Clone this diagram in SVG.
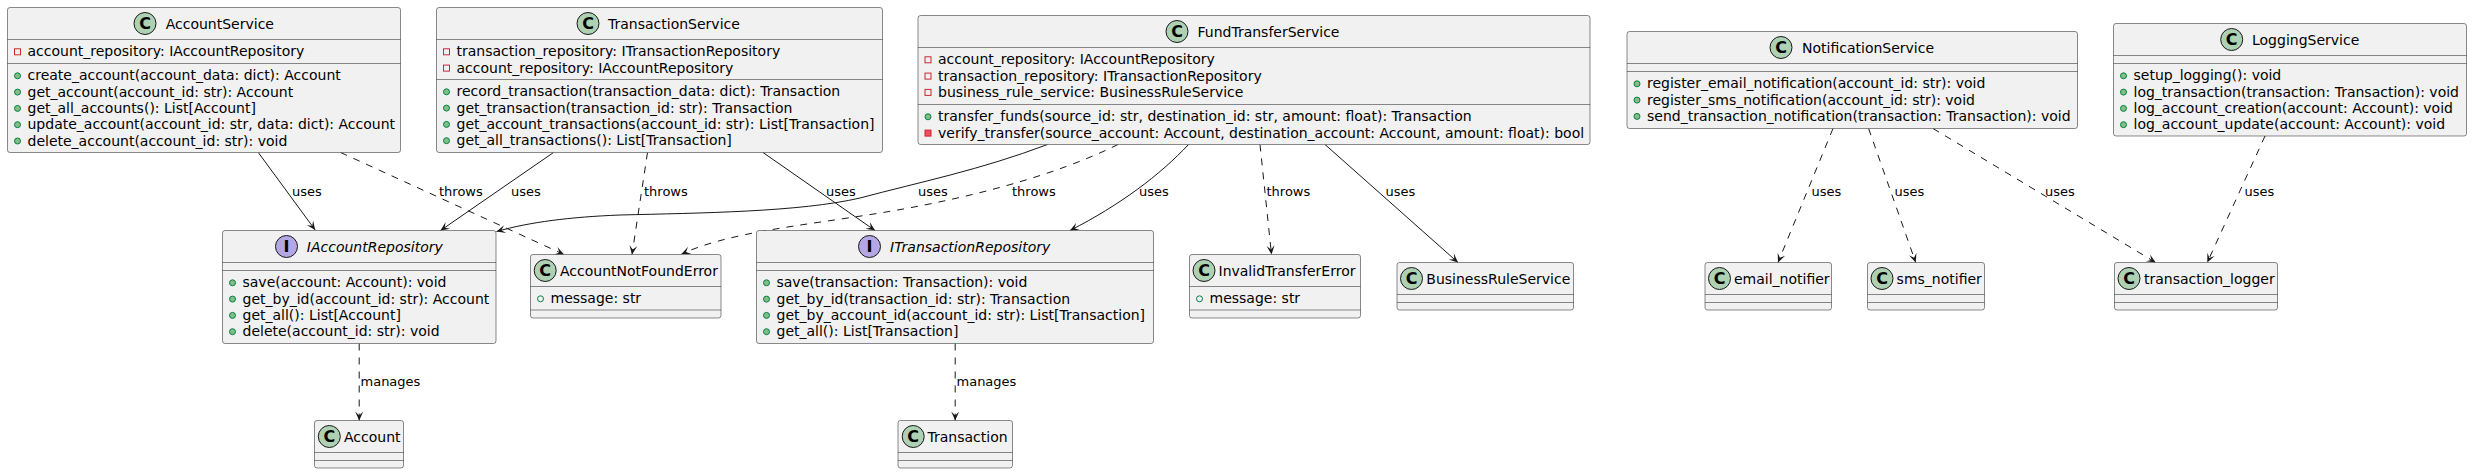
<svg xmlns="http://www.w3.org/2000/svg" width="2472" height="474" viewBox="0 0 2472 474">
<style>
.box{fill:#F1F1F1;stroke:#181818;stroke-width:0.5}
.sep{stroke:#181818;stroke-width:0.5}
.t{font-family:"DejaVu Sans","Liberation Sans",sans-serif;font-size:14px;fill:#000}
.it{font-style:italic}
.lbl{font-family:"DejaVu Sans","Liberation Sans",sans-serif;font-size:13px;fill:#000}
.cc{fill:#ADD1B2;stroke:#181818;stroke-width:1}
.ci{fill:#B4A7E5;stroke:#181818;stroke-width:1}
.g{font-family:"DejaVu Sans","Liberation Sans",sans-serif;font-size:16px;font-weight:bold;text-anchor:middle;fill:#000}
.pm{fill:#84BE84;stroke:#038048;stroke-width:1}
.pf{fill:none;stroke:#038048;stroke-width:1}
.prf{fill:none;stroke:#C82930;stroke-width:1}
.prm{fill:#F24D5C;stroke:#C82930;stroke-width:1}
.e{fill:none;stroke:#181818;stroke-width:1;marker-end:url(#arr)}
.d{stroke-dasharray:7,7}
</style>
<defs>
<marker id="arr" viewBox="-10 -5 11 10" refX="0" refY="0" markerWidth="11" markerHeight="10" markerUnits="userSpaceOnUse" orient="auto">
<path d="M0,0 L-9,-4 L-5,0 L-9,4 Z" fill="#181818" stroke="none"/>
</marker>
</defs>
<rect width="2472" height="474" fill="#FFFFFF"/>

<g id="connectors">
<path class="e" d="M258.3,152.5 L315.2,230"/>
<path class="e d" d="M340.6,152.5 L564,254.5"/>
<path class="e" d="M553.5,152.5 L440.5,230.5"/>
<path class="e d" d="M647.5,152.5 L632,254.5"/>
<path class="e" d="M763,152.5 L875,230.5"/>
<path class="e" d="M1047.5,144.5 C980,170 920,182 860,198 C800,212 700,213 620,215 C570,217 530,222 496.5,231.5"/>
<path class="e d" d="M1118,144.5 C1050,178 960,200 880,213 C800,226 730,232 681.5,254"/>
<path class="e" d="M1188.5,144.5 C1160,175 1120,205 1070,230.5"/>
<path class="e d" d="M1260,144.5 L1271.5,254.5"/>
<path class="e" d="M1325,144.5 L1458,262.5"/>
<path class="e d" d="M1833,128.5 L1778,262.5"/>
<path class="e d" d="M1868.6,128.5 L1915.7,262.5"/>
<path class="e d" d="M1933,128.5 L2155.7,262.5"/>
<path class="e d" d="M2265,136 L2207.3,262.5"/>
<path class="e d" d="M359.2,343.5 L359.2,420.5"/>
<path class="e d" d="M955.2,343.5 L955.2,420.5"/>
<text class="lbl" x="292" y="196">uses</text>
<text class="lbl" x="439" y="196">throws</text>
<text class="lbl" x="511" y="196">uses</text>
<text class="lbl" x="644" y="196">throws</text>
<text class="lbl" x="826" y="196">uses</text>
<text class="lbl" x="918" y="196">uses</text>
<text class="lbl" x="1012" y="196">throws</text>
<text class="lbl" x="1139" y="196">uses</text>
<text class="lbl" x="1266.5" y="196">throws</text>
<text class="lbl" x="1385.5" y="196">uses</text>
<text class="lbl" x="1811.5" y="196">uses</text>
<text class="lbl" x="1894.5" y="196">uses</text>
<text class="lbl" x="2045" y="196">uses</text>
<text class="lbl" x="2244.5" y="196">uses</text>
<text class="lbl" x="360.5" y="386">manages</text>
<text class="lbl" x="956.5" y="386">manages</text>
</g>

<g id="AccountService">
<rect class="box" x="7.5" y="7.5" width="393" height="145" rx="2.5"/>
<circle class="cc" cx="145" cy="23.5" r="11"/><text class="g" x="145" y="29.3">C</text>
<text class="t" x="165.7" y="28.5">AccountService</text>
<line class="sep" x1="7.5" y1="39.5" x2="400.5" y2="39.5"/>
<rect class="prf" x="14.5" y="48.8" width="6" height="6"/>
<text class="t" x="27.5" y="56.3">account_repository: IAccountRepository</text>
<line class="sep" x1="7.5" y1="63.5" x2="400.5" y2="63.5"/>
<circle class="pm" cx="17.5" cy="75.8" r="3"/><text class="t" x="27.5" y="80.3">create_account(account_data: dict): Account</text>
<circle class="pm" cx="17.5" cy="92.1" r="3"/><text class="t" x="27.5" y="96.6">get_account(account_id: str): Account</text>
<circle class="pm" cx="17.5" cy="108.4" r="3"/><text class="t" x="27.5" y="112.9">get_all_accounts(): List[Account]</text>
<circle class="pm" cx="17.5" cy="124.7" r="3"/><text class="t" x="27.5" y="129.2">update_account(account_id: str, data: dict): Account</text>
<circle class="pm" cx="17.5" cy="141" r="3"/><text class="t" x="27.5" y="145.5">delete_account(account_id: str): void</text>
</g>

<g id="TransactionService">
<rect class="box" x="436.5" y="7.5" width="446" height="145" rx="2.5"/>
<circle class="cc" cx="588" cy="23.5" r="11"/><text class="g" x="588" y="29.3">C</text>
<text class="t" x="608" y="28.5">TransactionService</text>
<line class="sep" x1="436.5" y1="39.5" x2="882.5" y2="39.5"/>
<rect class="prf" x="443.5" y="48.8" width="6" height="6"/><text class="t" x="456.5" y="56.3">transaction_repository: ITransactionRepository</text>
<rect class="prf" x="443.5" y="65.1" width="6" height="6"/><text class="t" x="456.5" y="72.6">account_repository: IAccountRepository</text>
<line class="sep" x1="436.5" y1="79.5" x2="882.5" y2="79.5"/>
<circle class="pm" cx="446.5" cy="91.8" r="3"/><text class="t" x="456.5" y="96.3">record_transaction(transaction_data: dict): Transaction</text>
<circle class="pm" cx="446.5" cy="108.1" r="3"/><text class="t" x="456.5" y="112.6">get_transaction(transaction_id: str): Transaction</text>
<circle class="pm" cx="446.5" cy="124.4" r="3"/><text class="t" x="456.5" y="128.9">get_account_transactions(account_id: str): List[Transaction]</text>
<circle class="pm" cx="446.5" cy="140.7" r="3"/><text class="t" x="456.5" y="145.2">get_all_transactions(): List[Transaction]</text>
</g>

<g id="FundTransferService">
<rect class="box" x="918" y="15.5" width="672" height="129" rx="2.5"/>
<circle class="cc" cx="1177" cy="31.5" r="11"/><text class="g" x="1177" y="37.3">C</text>
<text class="t" x="1197.5" y="36.5">FundTransferService</text>
<line class="sep" x1="918" y1="47.5" x2="1590" y2="47.5"/>
<rect class="prf" x="925" y="56.8" width="6" height="6"/><text class="t" x="938" y="64.3">account_repository: IAccountRepository</text>
<rect class="prf" x="925" y="73.1" width="6" height="6"/><text class="t" x="938" y="80.6">transaction_repository: ITransactionRepository</text>
<rect class="prf" x="925" y="89.4" width="6" height="6"/><text class="t" x="938" y="96.9">business_rule_service: BusinessRuleService</text>
<line class="sep" x1="918" y1="104.5" x2="1590" y2="104.5"/>
<circle class="pm" cx="928" cy="116.8" r="3"/><text class="t" x="938" y="121.3">transfer_funds(source_id: str, destination_id: str, amount: float): Transaction</text>
<rect class="prm" x="925" y="130.1" width="6" height="6"/><text class="t" x="938" y="137.6">verify_transfer(source_account: Account, destination_account: Account, amount: float): bool</text>
</g>

<g id="NotificationService">
<rect class="box" x="1627" y="31.5" width="450.5" height="97" rx="2.5"/>
<circle class="cc" cx="1781" cy="47.5" r="11"/><text class="g" x="1781" y="53.3">C</text>
<text class="t" x="1802" y="52.5">NotificationService</text>
<line class="sep" x1="1627" y1="63.5" x2="2077.5" y2="63.5"/>
<line class="sep" x1="1627" y1="71.5" x2="2077.5" y2="71.5"/>
<circle class="pm" cx="1637" cy="83.8" r="3"/><text class="t" x="1647" y="88.3">register_email_notification(account_id: str): void</text>
<circle class="pm" cx="1637" cy="100.1" r="3"/><text class="t" x="1647" y="104.6">register_sms_notification(account_id: str): void</text>
<circle class="pm" cx="1637" cy="116.4" r="3"/><text class="t" x="1647" y="120.9">send_transaction_notification(transaction: Transaction): void</text>
</g>

<g id="LoggingService">
<rect class="box" x="2113.5" y="23.5" width="353" height="112.5" rx="2.5"/>
<circle class="cc" cx="2231.7" cy="39.5" r="11"/><text class="g" x="2231.7" y="45.3">C</text>
<text class="t" x="2252" y="44.5">LoggingService</text>
<line class="sep" x1="2113.5" y1="55.5" x2="2466.5" y2="55.5"/>
<line class="sep" x1="2113.5" y1="63.5" x2="2466.5" y2="63.5"/>
<circle class="pm" cx="2123.5" cy="75.8" r="3"/><text class="t" x="2133.5" y="80.3">setup_logging(): void</text>
<circle class="pm" cx="2123.5" cy="92.1" r="3"/><text class="t" x="2133.5" y="96.6">log_transaction(transaction: Transaction): void</text>
<circle class="pm" cx="2123.5" cy="108.4" r="3"/><text class="t" x="2133.5" y="112.9">log_account_creation(account: Account): void</text>
<circle class="pm" cx="2123.5" cy="124.7" r="3"/><text class="t" x="2133.5" y="129.2">log_account_update(account: Account): void</text>
</g>

<g id="IAccountRepository">
<rect class="box" x="222.5" y="230.5" width="273.5" height="113" rx="2.5"/>
<circle class="ci" cx="286.5" cy="246.5" r="11"/><text class="g" x="286.5" y="252.3">I</text>
<text class="t it" x="306.8" y="251.5">IAccountRepository</text>
<line class="sep" x1="222.5" y1="262.5" x2="496" y2="262.5"/>
<line class="sep" x1="222.5" y1="270.5" x2="496" y2="270.5"/>
<circle class="pm" cx="232.5" cy="282.8" r="3"/><text class="t" x="242.5" y="287.3">save(account: Account): void</text>
<circle class="pm" cx="232.5" cy="299.1" r="3"/><text class="t" x="242.5" y="303.6">get_by_id(account_id: str): Account</text>
<circle class="pm" cx="232.5" cy="315.4" r="3"/><text class="t" x="242.5" y="319.9">get_all(): List[Account]</text>
<circle class="pm" cx="232.5" cy="331.7" r="3"/><text class="t" x="242.5" y="336.2">delete(account_id: str): void</text>
</g>

<g id="AccountNotFoundError">
<rect class="box" x="530.5" y="254.5" width="190.5" height="63.5" rx="2.5"/>
<circle class="cc" cx="545.2" cy="270.5" r="11"/><text class="g" x="545.2" y="276.3">C</text>
<text class="t" x="560" y="275.5">AccountNotFoundError</text>
<line class="sep" x1="530.5" y1="286.5" x2="721" y2="286.5"/>
<circle class="pf" cx="540.5" cy="298.8" r="3"/><text class="t" x="550.5" y="303.3">message: str</text>
<line class="sep" x1="530.5" y1="310" x2="721" y2="310"/>
</g>

<g id="ITransactionRepository">
<rect class="box" x="756.5" y="230.5" width="397" height="113" rx="2.5"/>
<circle class="ci" cx="869.5" cy="246.5" r="11"/><text class="g" x="869.5" y="252.3">I</text>
<text class="t it" x="890" y="251.5">ITransactionRepository</text>
<line class="sep" x1="756.5" y1="262.5" x2="1153.5" y2="262.5"/>
<line class="sep" x1="756.5" y1="270.5" x2="1153.5" y2="270.5"/>
<circle class="pm" cx="766.5" cy="282.8" r="3"/><text class="t" x="776.5" y="287.3">save(transaction: Transaction): void</text>
<circle class="pm" cx="766.5" cy="299.1" r="3"/><text class="t" x="776.5" y="303.6">get_by_id(transaction_id: str): Transaction</text>
<circle class="pm" cx="766.5" cy="315.4" r="3"/><text class="t" x="776.5" y="319.9">get_by_account_id(account_id: str): List[Transaction]</text>
<circle class="pm" cx="766.5" cy="331.7" r="3"/><text class="t" x="776.5" y="336.2">get_all(): List[Transaction]</text>
</g>

<g id="InvalidTransferError">
<rect class="box" x="1189.5" y="254.5" width="171" height="63.5" rx="2.5"/>
<circle class="cc" cx="1204" cy="270.5" r="11"/><text class="g" x="1204" y="276.3">C</text>
<text class="t" x="1218.5" y="275.5">InvalidTransferError</text>
<line class="sep" x1="1189.5" y1="286.5" x2="1360.5" y2="286.5"/>
<circle class="pf" cx="1199.5" cy="298.8" r="3"/><text class="t" x="1209.5" y="303.3">message: str</text>
<line class="sep" x1="1189.5" y1="310" x2="1360.5" y2="310"/>
</g>

<g id="BusinessRuleService">
<rect class="box" x="1397" y="262.5" width="176.5" height="47.5" rx="2.5"/>
<circle class="cc" cx="1411.5" cy="278.5" r="11"/><text class="g" x="1411.5" y="284.3">C</text>
<text class="t" x="1426.3" y="283.5">BusinessRuleService</text>
<line class="sep" x1="1397" y1="294.5" x2="1573.5" y2="294.5"/>
<line class="sep" x1="1397" y1="302.5" x2="1573.5" y2="302.5"/>
</g>

<g id="email_notifier">
<rect class="box" x="1705" y="262.5" width="126.5" height="47.5" rx="2.5"/>
<circle class="cc" cx="1719.5" cy="278.5" r="11"/><text class="g" x="1719.5" y="284.3">C</text>
<text class="t" x="1734" y="283.5">email_notifier</text>
<line class="sep" x1="1705" y1="294.5" x2="1831.5" y2="294.5"/>
<line class="sep" x1="1705" y1="302.5" x2="1831.5" y2="302.5"/>
</g>

<g id="sms_notifier">
<rect class="box" x="1867.5" y="262.5" width="117" height="47.5" rx="2.5"/>
<circle class="cc" cx="1882" cy="278.5" r="11"/><text class="g" x="1882" y="284.3">C</text>
<text class="t" x="1896.6" y="283.5">sms_notifier</text>
<line class="sep" x1="1867.5" y1="294.5" x2="1984.5" y2="294.5"/>
<line class="sep" x1="1867.5" y1="302.5" x2="1984.5" y2="302.5"/>
</g>

<g id="transaction_logger">
<rect class="box" x="2114.5" y="262.5" width="163" height="47.5" rx="2.5"/>
<circle class="cc" cx="2129" cy="278.5" r="11"/><text class="g" x="2129" y="284.3">C</text>
<text class="t" x="2144" y="283.5">transaction_logger</text>
<line class="sep" x1="2114.5" y1="294.5" x2="2277.5" y2="294.5"/>
<line class="sep" x1="2114.5" y1="302.5" x2="2277.5" y2="302.5"/>
</g>

<g id="Account">
<rect class="box" x="314.5" y="420.5" width="89" height="47.5" rx="2.5"/>
<circle class="cc" cx="329.3" cy="436.5" r="11"/><text class="g" x="329.3" y="442.3">C</text>
<text class="t" x="344" y="441.5">Account</text>
<line class="sep" x1="314.5" y1="452.5" x2="403.5" y2="452.5"/>
<line class="sep" x1="314.5" y1="460.5" x2="403.5" y2="460.5"/>
</g>

<g id="Transaction">
<rect class="box" x="898" y="420.5" width="114.5" height="47.5" rx="2.5"/>
<circle class="cc" cx="913.2" cy="436.5" r="11"/><text class="g" x="913.2" y="442.3">C</text>
<text class="t" x="927.5" y="441.5">Transaction</text>
<line class="sep" x1="898" y1="452.5" x2="1012.5" y2="452.5"/>
<line class="sep" x1="898" y1="460.5" x2="1012.5" y2="460.5"/>
</g>
</svg>
